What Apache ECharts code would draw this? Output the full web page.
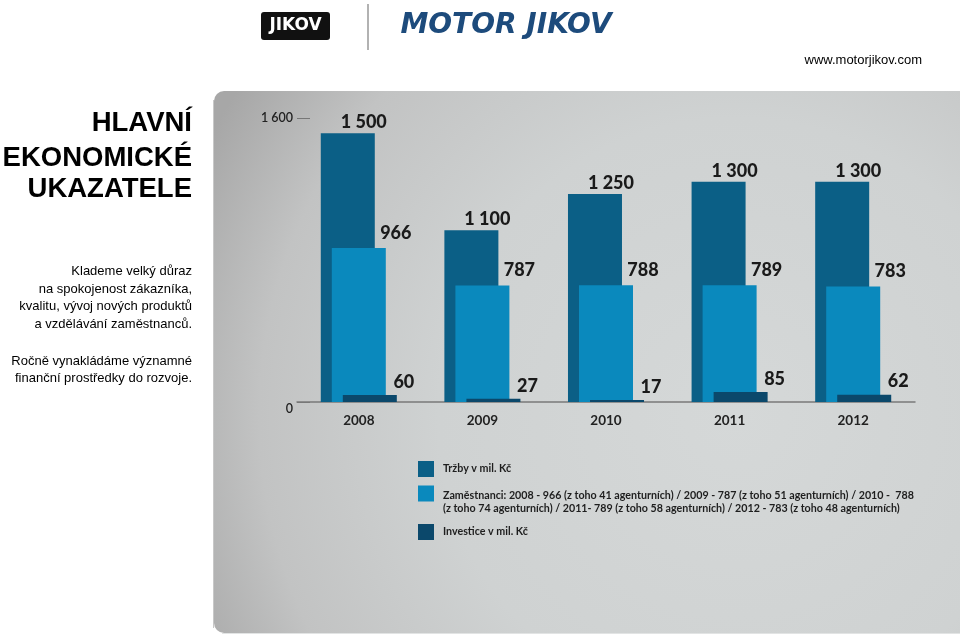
<!DOCTYPE html>
<html>
<head>
<meta charset="utf-8">
<script src="https://cdn.jsdelivr.net/npm/echarts@6/dist/echarts.min.js"></script>
<style>
html,body{margin:0;padding:0;background:#fff;}
#chart{width:960px;height:638px;}
</style>
</head>
<body>
<div id="chart"></div>
<script>
// ---- data ----
var years = ['2008', '2009', '2010', '2011', '2012'];
var trzby = [1500, 1100, 1250, 1300, 1300];          // Tržby v mil. Kč
var zamestnanci = [966, 787, 788, 789, 783];         // Zaměstnanci
var investice = [60, 27, 17, 85, 62];                // Investice v mil. Kč
var axisTicks = [0, 1600];                           // tick labels on the left
var seriesNames = ['Tržby v mil. Kč', 'Zaměstnanci', 'Investice v mil. Kč'];
var legendZamLines = [
  'Zaměstnanci: 2008 - 966 (z toho 41 agenturních) / 2009 - 787 (z toho 51 agenturních) / 2010 -  788',
  '(z toho 74 agenturních) / 2011- 789 (z toho 58 agenturních) / 2012 - 783 (z toho 48 agenturních)'
];
var titleLines = ['HLAVNÍ', 'EKONOMICKÉ', 'UKAZATELE'];
var paraLines = ['Klademe velký důraz', 'na spokojenost zákazníka,', 'kvalitu, vývoj nových produktů', 'a vzdělávání zaměstnanců.'];
var para2Lines = ['Ročně vynakládáme významné', 'finanční prostředky do rozvoje.'];

// ---- styles ----
var C_TRZBY = '#0b5f86', C_ZAM = '#0a89bd', C_INV = '#0b486b';
var numFont = 'Lato';
function fmt(v){ return String(v).replace(/\B(?=(\d{3})+(?!\d))/g, ' '); }

var chart = echarts.init(document.getElementById('chart'));

var graphics = [];
graphics.push({type:'rect', z:-20, shape:{x:214,y:91,width:746,height:542,r:[10,0,0,10]},
  style:{fill:new echarts.graphic.RadialGradient(0.7,0.6,1.1,[
    {offset:0,color:'#d5d8d8'},{offset:0.5,color:'#cfd2d2'},{offset:0.8,color:'#c2c3c3'},{offset:1,color:'#a7a7a7'}])}});
graphics.push({type:'line', z:-19, shape:{x1:213.5,y1:100,x2:213.5,y2:628}, style:{stroke:'#c8c8c8',lineWidth:1}});
graphics.push({type:'line', z:-19, shape:{x1:222,y1:633.5,x2:960,y2:633.5}, style:{stroke:'#e2e4e4',lineWidth:1}});
// logos as text
graphics.push({type:'rect', shape:{x:261,y:12,width:69,height:28,r:3}, style:{fill:'#111'}});
graphics.push({type:'text', x:295.5, y:26, style:{text:'JIKOV', fill:'#fff', font:'bold 17px "DejaVu Sans"', align:'center', verticalAlign:'middle'}});
graphics.push({type:'line', shape:{x1:368,y1:4,x2:368,y2:50}, style:{stroke:'#999',lineWidth:1.5}});
graphics.push({type:'text', x:506, y:26, style:{text:'MOTOR JIKOV', fill:'#1d4b7c', font:'italic 900 28px "DejaVu Sans"', align:'center', verticalAlign:'middle'}});
graphics.push({type:'text', x:922, y:60, style:{text:'www.motorjikov.com', fill:'#000', font:'13px "Liberation Sans"', align:'right', verticalAlign:'middle'}});
var ty = [123.5, 158.5, 189];
titleLines.forEach(function(t,i){
  graphics.push({type:'text', x:192, y:ty[i], style:{text:t, fill:'#000', font:'bold 27.5px "Liberation Sans"', align:'right', verticalAlign:'middle'}});
});
var py = [271, 289, 306.5, 324];
paraLines.forEach(function(t,i){
  graphics.push({type:'text', x:192, y:py[i], style:{text:t, fill:'#000', font:'13px "Liberation Sans"', align:'right', verticalAlign:'middle'}});
});
var py2 = [361, 378.5];
para2Lines.forEach(function(t,i){
  graphics.push({type:'text', x:192, y:py2[i], style:{text:t, fill:'#000', font:'13px "Liberation Sans"', align:'right', verticalAlign:'middle'}});
});

var legendText = {color:'#1e1e1e', fontSize:10.7, fontWeight:'bold', fontFamily:'Lato', padding:[0,0,0,4]};

var option = {
  animation:false,
  textStyle:{fontFamily:numFont},
  graphic:graphics,
  legend:[
    {left:418, top:461, padding:0, itemWidth:16, itemHeight:16, icon:'rect', selectedMode:false,
     data:[seriesNames[0]], textStyle:legendText},
    {left:418, top:475.5, padding:0, itemWidth:16, itemHeight:16, icon:'rect', selectedMode:false,
     data:[seriesNames[1]],
     formatter:function(){return '{s| }\n{a|' + legendZamLines[0] + '}\n{a|' + legendZamLines[1] + '}';},
     textStyle:Object.assign({}, legendText, {
       rich:{s:{fontSize:10.7, lineHeight:17}, a:{fontSize:10.7, fontWeight:'bold', fontFamily:'Lato', color:'#1e1e1e', lineHeight:12.5}}})},
    {left:418, top:524, padding:0, itemWidth:16, itemHeight:16, icon:'rect', selectedMode:false,
     data:[seriesNames[2]], textStyle:legendText}
  ],
  grid:{left:297, top:118, right:45, bottom:236, containLabel:false},
  xAxis:{type:'category', data:years, boundaryGap:true,
    axisLine:{lineStyle:{color:'#7a7a7a', width:1.5}}, axisTick:{show:false},
    axisLabel:{color:'#222', fontSize:13.5, fontWeight:'bold', fontFamily:numFont, margin:12}},
  yAxis:[
    {type:'value', min:axisTicks[0], max:axisTicks[1], interval:axisTicks[1]-axisTicks[0], position:'left',
     axisLine:{show:false}, splitLine:{show:false},
     axisTick:{show:true, inside:true, length:13, lineStyle:{color:'#777', width:1}},
     axisLabel:{color:'#222', fontSize:12.5, fontWeight:600, fontFamily:numFont, margin:4,
       formatter:function(v){ return v===0 ? '{z|0}' : fmt(v); },
       rich:{z:{fontSize:12.5, fontWeight:600, fontFamily:numFont, color:'#222', padding:[14,0,0,0]}}}},
    {type:'value', min:392, max:1563, show:false, splitLine:{show:false}},
    {type:'value', min:231, max:1587, show:false, splitLine:{show:false}},
    {type:'value', min:0, max:2400, show:false, splitLine:{show:false}}
  ],
  series:[
    {name:seriesNames[0], type:'bar', yAxisIndex:1, data:trzby, barWidth:54, barGap:'-79.6%',
     itemStyle:{color:C_TRZBY}, z:2,
     label:{show:true, position:'top', offset:[16,3], formatter:function(p){return fmt(p.value);},
       color:'#1a1a1a', fontSize:18, fontWeight:900, fontFamily:numFont}},
    {name:seriesNames[1], type:'bar', yAxisIndex:2, data:zamestnanci, barWidth:54, barGap:'-79.6%',
     itemStyle:{color:C_ZAM}, z:3,
     label:{show:true, position:'top', offset:[37,-1], formatter:function(p){return fmt(p.value);},
       color:'#1a1a1a', fontSize:18, fontWeight:900, fontFamily:numFont}},
    {name:seriesNames[2], type:'bar', yAxisIndex:3, data:investice, barWidth:54, barGap:'-79.6%',
     itemStyle:{color:C_INV}, z:4,
     label:{show:true, position:'top', offset:[34,1], formatter:function(p){return fmt(p.value);},
       color:'#1a1a1a', fontSize:18, fontWeight:900, fontFamily:numFont}}
  ]
};
chart.setOption(option);
</script>
</body>
</html>
